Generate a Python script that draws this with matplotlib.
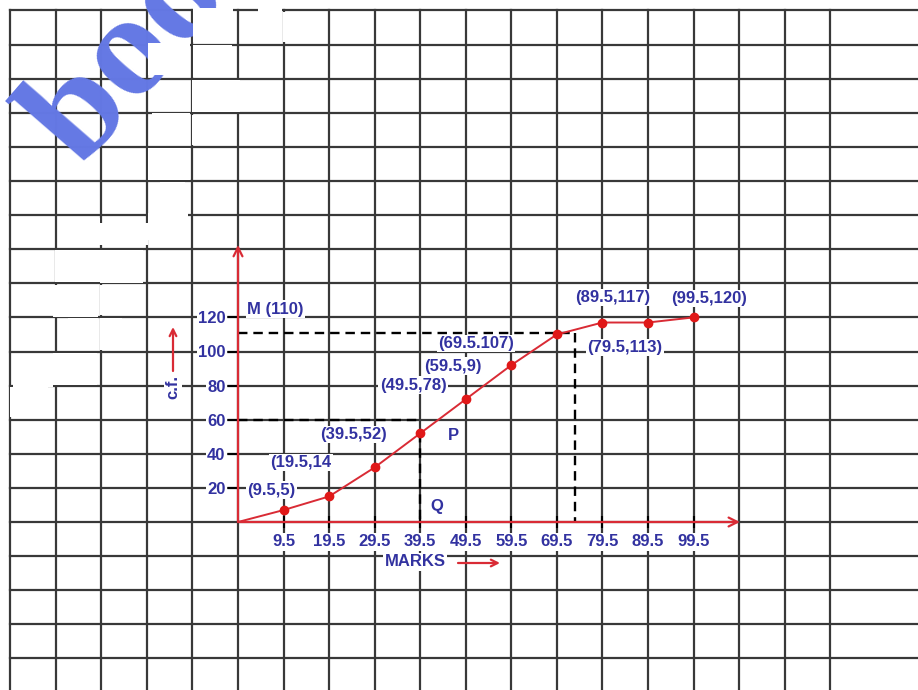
import matplotlib
matplotlib.use("Agg")
import matplotlib.pyplot as plt
from matplotlib.patches import Rectangle

# ogive data (upper class boundaries vs cumulative frequency)
marks = [-0.5, 9.5, 19.5, 29.5, 39.5, 49.5, 59.5, 69.5, 79.5, 89.5, 99.5]
cum_freq = [0, 7, 15, 32, 52, 72, 92, 110, 117, 117, 120]
point_labels = ["", "(9.5,5)", "(19.5,14", "", "(39.5,52)", "(49.5,78)",
                "(59.5,9)", "(69.5.107)", "(79.5,113)", "(89.5,117)", "(99.5,120)"]
xtick_vals = [9.5, 19.5, 29.5, 39.5, 49.5, 59.5, 69.5, 79.5, 89.5, 99.5]
ytick_vals = [20, 40, 60, 80, 100, 120]
median_cf = 60        # N/2
median_mark = 39.5    # point P / Q
m_cf = 111            # point M
m_mark = 73.5

W, H = 918, 690
RED = "#d92b35"
BLUE = "#3232a0"
GRID = "#383838"

# label offsets in pixels from each point (dx, dy)
label_offsets = [(0, 0), (-36, 20), (-59, 34), (0, 0), (-100, -1), (-86, 14),
                 (-87, -1), (-119, -9), (-15, -25), (-73, 25), (-22, 19)]

fig = plt.figure(figsize=(W / 100, H / 100), dpi=100)
ax = fig.add_axes([0, 0, 1, 1])
fig.patch.set_facecolor("white")

# 1 mark = 4.555 px, 1 c.f. = 1.705 px, origin at pixel (238, 522)
ax.set_xlim(-0.5 - 238 / 4.555, -0.5 + (W - 238) / 4.555)
ax.set_ylim(-(H - 522) / 1.705, 522 / 1.705)


def pix(x, y):
    return x / W, 1 - y / H


# graph paper grid
for gx in range(-50, 140, 10):
    ax.plot([gx - 0.5, gx - 0.5], [-100, 300], color=GRID, lw=1.6, zorder=1)
for gy in range(-80, 301, 20):
    ax.plot([-50.5, 150], [gy, gy], color=GRID, lw=1.6, zorder=1)

# watermark (cut by the top edge, as in the scan)
fig.text(*pix(80, 168), "book", fontsize=106, family="Liberation Serif",
         fontweight="bold", color="#6478e4", rotation=49,
         rotation_mode="anchor", ha="left", va="baseline", zorder=3)

# white blotches over the paper
blotches = [(193, 8, 233, 42), (148, 43, 190, 75), (193, 45, 232, 77),
            (192, 80, 240, 112), (152, 113, 190, 145), (192, 115, 228, 145),
            (148, 148, 190, 180), (258, 8, 282, 36), (283, 12, 300, 42),
            (160, 182, 185, 208), (100, 223, 148, 245), (77, 218, 100, 245),
            (148, 213, 188, 240), (55, 250, 100, 282), (100, 250, 143, 283),
            (53, 285, 98, 317), (100, 285, 143, 315), (68, 318, 98, 348),
            (100, 318, 122, 350), (13, 355, 53, 387), (53, 353, 97, 385),
            (10, 387, 48, 417), (12, 458, 33, 482)]
for x0, y0, x1, y1 in blotches:
    fig.patches.append(Rectangle(pix(x0, y1), (x1 - x0) / W, (y1 - y0) / H,
                                 transform=fig.transFigure, fc="white",
                                 ec="none", zorder=4))

# axes with ticks
for side in ["top", "right", "left", "bottom"]:
    ax.spines[side].set_visible(False)
ax.spines["left"].set_position(("data", -0.5))
ax.spines["bottom"].set_position(("data", 0))
ax.annotate("", xy=(-0.5, 162.5), xytext=(-0.5, 0),
            arrowprops=dict(arrowstyle="->", color=RED, lw=1.6,
                            mutation_scale=16, shrinkA=0, shrinkB=0), zorder=5)
ax.annotate("", xy=(109.7, 0), xytext=(-0.5, 0),
            arrowprops=dict(arrowstyle="->", color=RED, lw=1.6,
                            mutation_scale=16, shrinkA=0, shrinkB=0), zorder=5)

ax.set_xticks(xtick_vals, [str(v) for v in xtick_vals])
ax.set_yticks(ytick_vals, [str(v) for v in ytick_vals])
ax.tick_params(axis="x", direction="inout", length=8, width=1.5, color="black",
               labelcolor=BLUE, labelsize=12, pad=5)
ax.tick_params(axis="y", direction="out", length=7, width=1.5, color="black",
               labelcolor=BLUE, labelsize=12, pad=2)
for lab in ax.get_xticklabels() + ax.get_yticklabels():
    lab.set_fontweight("bold")
    lab.set_family("Liberation Sans")
    lab.set_bbox(dict(fc="white", ec="none", pad=1))
ax.set_zorder(2)

# dashed construction lines
dash = (0, (4, 2.5))
ax.plot([-0.5, m_mark], [m_cf, m_cf], color="black", lw=1.7, ls=dash, zorder=3)
ax.plot([m_mark, m_mark], [m_cf, 0], color="black", lw=1.7, ls=dash, zorder=3)
ax.plot([-0.5, median_mark], [median_cf, median_cf], color="black", lw=1.7,
        ls=dash, zorder=3)
ax.plot([median_mark, median_mark], [52, 0], color="black", lw=1.7, ls=dash,
        zorder=3)

# the ogive
ax.plot(marks, cum_freq, color=RED, lw=1.4, zorder=4)
ax.plot(marks[1:], cum_freq[1:], "o", color="#e01818", ms=6, zorder=5)

txt = dict(color=BLUE, fontsize=12, fontweight="bold", family="Liberation Sans")
for x, y, lab, off in zip(marks, cum_freq, point_labels, label_offsets):
    if lab:
        ax.annotate(lab, (x, y), xytext=off, textcoords="offset pixels",
                    ha="left", va="center", zorder=6,
                    bbox=dict(fc="white", ec="none", pad=1), **txt)

fig.text(*pix(247, 309), "M (110)", ha="left", va="center", zorder=6,
         bbox=dict(fc="white", ec="none", pad=1), **txt)
fig.text(*pix(453, 435), "P", ha="center", va="center", zorder=6, **txt)
fig.text(*pix(437, 506), "Q", ha="center", va="center", zorder=6,
         bbox=dict(fc="white", ec="none", pad=1), **txt)
fig.text(*pix(415, 562), "MARKS", ha="center", va="center", zorder=6,
         bbox=dict(fc="white", ec="none", pad=1), **txt)
fig.text(*pix(173, 387), "c.f.", ha="center", va="center", rotation=90,
         zorder=6, bbox=dict(fc="white", ec="none", pad=1), **txt)

# little red arrows next to the axis names
ax.annotate("", xy=pix(500, 563), xytext=pix(458, 563),
            xycoords="figure fraction", textcoords="figure fraction",
            arrowprops=dict(arrowstyle="->", color=RED, lw=1.6,
                            mutation_scale=12, shrinkA=0, shrinkB=0))
ax.annotate("", xy=pix(173, 327), xytext=pix(173, 371),
            xycoords="figure fraction", textcoords="figure fraction",
            arrowprops=dict(arrowstyle="->", color=RED, lw=1.6,
                            mutation_scale=12, shrinkA=0, shrinkB=0))

fig.savefig("out.png", dpi=100)
